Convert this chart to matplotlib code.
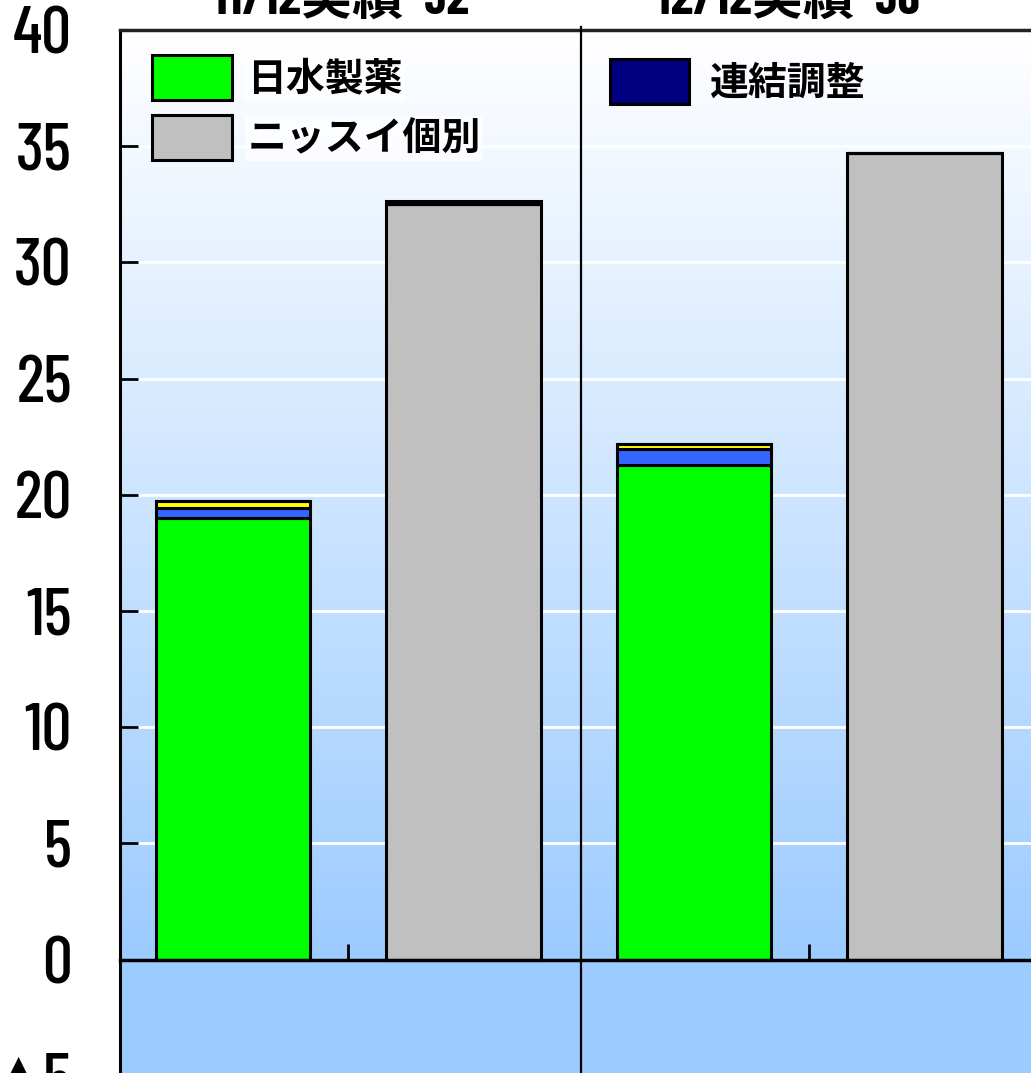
import numpy as np
import matplotlib
matplotlib.use('Agg')
import matplotlib.pyplot as plt
from matplotlib.colors import LinearSegmentedColormap

#data
categories = ['11/12 日水製薬系', '11/12 ニッスイ', '12/12 日水製薬系', '12/12 ニッスイ']
nissui_seiyaku = [19.0, 0.0, 21.3, 0.0]   #日水製薬
nissui_kobetsu = [0.0, 32.5, 0.0, 34.7]   #ニッスイ個別
other_blue = [0.45, 0.0, 0.65, 0.0]
other_yellow = [0.3, 0.0, 0.25, 0.0]
renketsu = [0.0, 0.15, 0.0, 0.0]          #連結調整
titles = ['11/12実績  32', '12/12実績  36']
yticks = list(range(-10, 41, 5))

num_font = ['Barlow Condensed', 'DejaVu Sans']
jp_font = ['Noto Sans CJK JP', 'DejaVu Sans']

fig = plt.figure(figsize=(10.31, 10.73), dpi=100)
W, H = 1031.0, 1073.0
#axes runs past the right and bottom edges of the picture
ax = fig.add_axes([120/W, (H-30-1162)/H, 922/W, 1162/H])
ax.set_xlim(-0.49, 3.51)
ax.set_ylim(-10, 40)

#background: gradient above zero, flat blue below
cmap = LinearSegmentedColormap.from_list('bg', ['#9ccbff', '#ffffff'])
grad = np.linspace(0, 1, 256).reshape(-1, 1)
ax.imshow(grad, cmap=cmap, origin='lower', extent=[-0.49, 3.51, 0, 40],
          aspect='auto', zorder=0)
ax.axhspan(-10, 0, color='#9ccbff', zorder=0, lw=0)
for v in range(5, 40, 5):
    ax.axhline(v, color='white', lw=2, zorder=1)

x = np.arange(len(categories))
w = 0.67
ekw = dict(edgecolor='black', linewidth=2.2, zorder=3)
bottom = np.zeros(len(categories))
b_green = ax.bar(x, nissui_seiyaku, w, bottom=bottom, color='#00ff00', **ekw)
bottom += nissui_seiyaku
b_gray = ax.bar(x, nissui_kobetsu, w, bottom=bottom, color='#c0c0c0', **ekw)
bottom += nissui_kobetsu
b_blue = ax.bar(x, other_blue, w, bottom=bottom, color='#3366ff', **ekw)
bottom += other_blue
b_yel = ax.bar(x, other_yellow, w, bottom=bottom, color='#ffff00', **ekw)
bottom += other_yellow
b_navy = ax.bar(x, renketsu, w, bottom=bottom, color='#000080', **ekw)

#panel divider
ax.axvline(1.51, ymin=0, ymax=1.003, color='black', lw=1.6, zorder=4, clip_on=False)

#spines
ax.spines['bottom'].set_position(('data', 0))
ax.spines['bottom'].set_linewidth(2.5)
ax.spines['bottom'].set_zorder(4)
ax.spines['left'].set_linewidth(2.2)
ax.spines['top'].set_linewidth(2.5)
ax.spines['top'].set_color('#222222')
ax.spines['right'].set_visible(False)

ax.set_xticks([0.5, 2.5])
ax.set_xticklabels([])
ax.tick_params(axis='x', direction='in', length=11.5, width=2)
ax.set_yticks(yticks)
ax.set_yticklabels([('▲%d' % -v) if v < 0 else str(v) for v in yticks],
                   family=num_font, fontsize=48, weight='medium')
ax.tick_params(axis='y', direction='in', length=13, width=2, pad=34.6)

#titles, mostly cut off at the top
for xp, t in zip([0.467, 2.407], titles):
    ax.text(xp, 40.7, t, ha='center', va='baseline', fontsize=37,
            family=['Barlow Condensed', 'Noto Sans CJK JP'],
            weight='bold', clip_on=False)

#legends
lkw = dict(loc='upper left', frameon=False, borderpad=0, borderaxespad=0,
           handlelength=2.05, handleheight=1.4,
           prop=dict(family=jp_font, weight='bold', size=28))
leg1 = ax.legend([b_green, b_gray], ['日水製薬', 'ニッスイ個別'],
                 bbox_to_anchor=(0.0347, 0.9785), handletextpad=0.4,
                 labelspacing=0.38, **lkw)
for t in leg1.get_texts():
    t.set_bbox(dict(facecolor='white', edgecolor='none', pad=2, alpha=0.7))
ax.add_artist(leg1)
leg2 = ax.legend([b_navy], ['連結調整'], bbox_to_anchor=(0.531, 0.975),
                 handletextpad=0.54, **lkw)
leg2.set_zorder(5)
leg1.set_zorder(5)

fig.savefig('out.png', dpi=100)
